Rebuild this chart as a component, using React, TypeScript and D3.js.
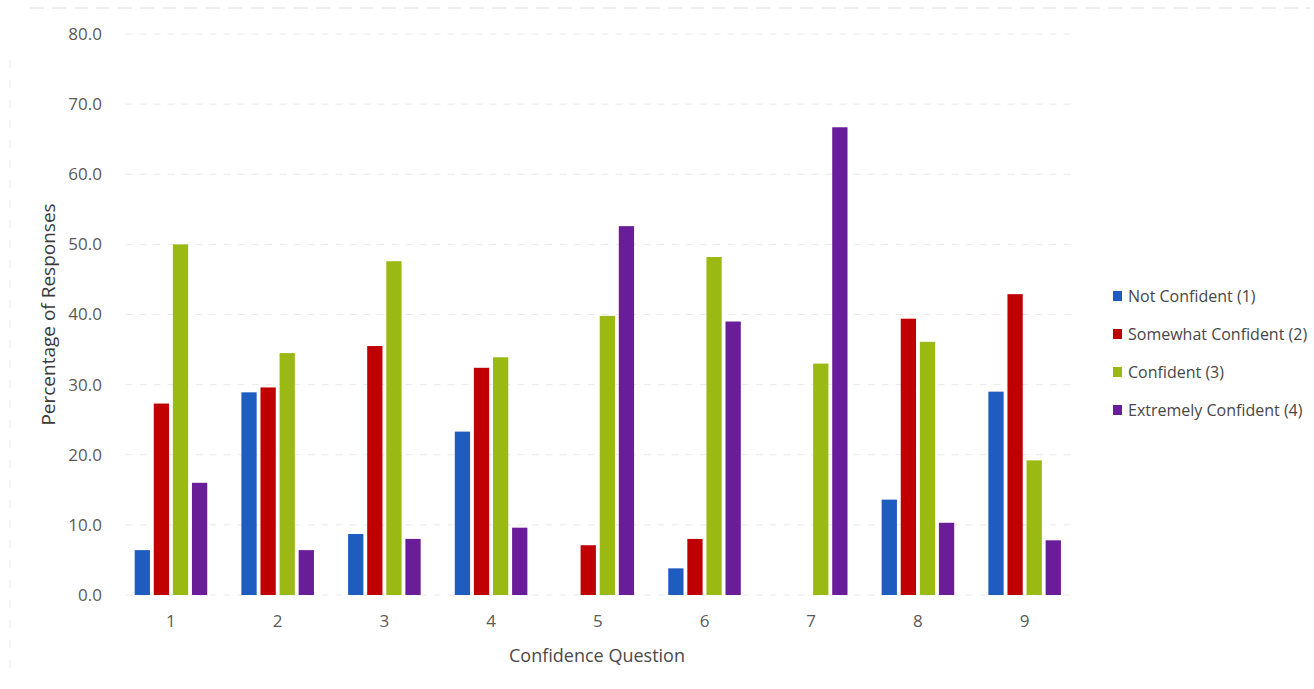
import React from "react";
import * as d3 from "d3";

// Confidence survey: percentage of responses per question, by confidence level
const questions = ["1", "2", "3", "4", "5", "6", "7", "8", "9"];
const seriesNames = [
  "Not Confident (1)",
  "Somewhat Confident (2)",
  "Confident (3)",
  "Extremely Confident (4)",
];
const seriesColors = ["#1f5cbf", "#c00000", "#9ab913", "#6a1d98"];

const notConfident = [6.4, 28.9, 8.7, 23.3, 0, 3.8, 0, 13.6, 29.0];
const somewhatConfident = [27.3, 29.6, 35.5, 32.4, 7.1, 8.0, 0, 39.4, 42.9];
const confident = [50.0, 34.5, 47.6, 33.9, 39.8, 48.2, 33.0, 36.1, 19.2];
const extremelyConfident = [16.0, 6.4, 8.0, 9.6, 52.6, 39.0, 66.7, 10.3, 7.8];

const yTicks = [0, 10, 20, 30, 40, 50, 60, 70, 80];

const seriesValues = [notConfident, somewhatConfident, confident, extremelyConfident];

const W = 1314;
const H = 689;
const plot = { left: 117.6, right: 1078, top: 34, bottom: 595 };

export default function App() {
  const x = d3
    .scaleBand<string>()
    .domain(questions)
    .range([plot.left, plot.right])
    .paddingInner(0.32)
    .paddingOuter(0.16);
  const xInner = d3
    .scaleBand<number>()
    .domain(d3.range(seriesNames.length))
    .range([0, x.bandwidth()])
    .paddingInner(0.2);
  const y = d3.scaleLinear().domain([0, 80]).range([plot.bottom, plot.top]);
  const fmt = d3.format(".1f");
  const font = "'Open Sans', 'Liberation Sans', sans-serif";

  return (
    <svg
      width={W}
      height={H}
      style={{ position: "absolute", left: 0, top: 0, background: "#fff" }}
      fontFamily={font}
    >
      {/* faint chart frame */}
      <line x1={30} x2={1310} y1={8} y2={8} stroke="#dedede" strokeDasharray="14 8" strokeWidth={1} />
      <line x1={10} x2={10} y1={60} y2={680} stroke="#ececec" strokeDasharray="8 12" strokeWidth={1} />

      {/* gridlines */}
      {yTicks.map((t) => (
        <line
          key={`g${t}`}
          x1={plot.left + 8}
          x2={plot.right}
          y1={y(t)}
          y2={y(t)}
          stroke="#e9e9e9"
          strokeDasharray="7 7"
          strokeWidth={1}
        />
      ))}

      {/* y tick labels */}
      {yTicks.map((t) => (
        <text
          key={`yt${t}`}
          x={102}
          y={y(t)}
          dy="0.35em"
          textAnchor="end"
          fontSize={17}
          fill="#5a5a5a"
        >
          {fmt(t)}
        </text>
      ))}

      {/* bars */}
      {questions.map((q, qi) => (
        <g key={q} transform={`translate(${x(q)},0)`}>
          {seriesValues.map((vals, si) =>
            vals[qi] > 0 ? (
              <rect
                key={si}
                x={xInner(si)}
                y={y(vals[qi])}
                width={xInner.bandwidth()}
                height={y(0) - y(vals[qi])}
                fill={seriesColors[si]}
              />
            ) : null
          )}
        </g>
      ))}

      {/* x tick labels */}
      {questions.map((q) => (
        <text
          key={`xt${q}`}
          x={(x(q) as number) + x.bandwidth() / 2}
          y={621}
          dy="0.35em"
          textAnchor="middle"
          fontSize={17}
          fill="#5a5a5a"
        >
          {q}
        </text>
      ))}

      {/* axis titles */}
      <text x={597} y={656} dy="0.35em" textAnchor="middle" fontSize={18} fill="#4a4a4a">
        Confidence Question
      </text>
      <text
        transform={`translate(48,${(plot.top + plot.bottom) / 2}) rotate(-90)`}
        dy="0.35em"
        textAnchor="middle"
        fontSize={19}
        fill="#3a3a3a"
      >
        Percentage of Responses
      </text>

      {/* legend */}
      {seriesNames.map((name, i) => (
        <g key={name} transform={`translate(1113,${296 + i * 38})`}>
          <rect x={0} y={-5} width={9} height={10} fill={seriesColors[i]} />
          <text x={15} y={0} dy="0.35em" fontSize={16} fill="#474747">
            {name}
          </text>
        </g>
      ))}
    </svg>
  );
}
